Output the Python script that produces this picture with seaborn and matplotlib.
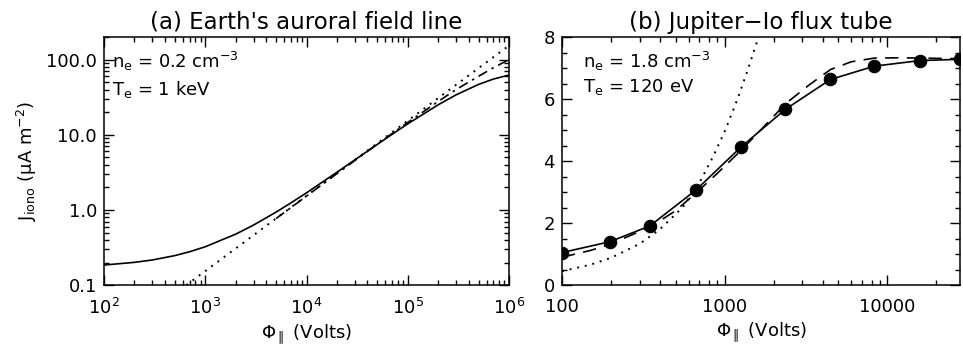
import numpy as np
import pandas as pd
import matplotlib
matplotlib.use("Agg")
import matplotlib.pyplot as plt
import seaborn as sns
from matplotlib.ticker import FixedLocator, LogLocator, MultipleLocator, NullFormatter, FixedFormatter

# ---------------- data ----------------
# (a) Earth's auroral field line
phi_a = [1e2, 2e2, 3e2, 5e2, 7e2, 1e3, 2e3, 3e3, 5e3, 7e3, 1e4, 2e4, 3e4, 5e4, 7e4,
         1e5, 2e5, 3e5, 5e5, 7e5, 1e6]
j_solid_a = [0.185, 0.201, 0.216, 0.247, 0.278, 0.324, 0.477, 0.630, 0.935, 1.24, 1.69,
             3.18, 4.64, 7.45, 10.15, 13.98, 25.1, 34.0, 46.8, 55.1, 62.4]
phi_dash_a = [5e3, 7e3, 1e4, 2e4, 3e4, 5e4, 7e4, 1e5, 2e5, 3e5, 5e5, 7e5, 1e6]
j_dash_a = [0.77, 1.07, 1.53, 3.05, 4.55, 7.5, 10.4, 14.6, 27.8, 40.0, 60.0, 78.0, 100.0]
phi_dot_a = [650, 1e3, 1e4, 1e5, 1e6]
j_dot_a = [0.1, 0.154, 1.54, 15.4, 154.0]

# (b) Jupiter-Io flux tube
phi_b = [100, 197, 347, 664, 1265, 2366, 4470, 8320, 15900, 28000]
j_b = [1.05, 1.40, 1.91, 3.06, 4.46, 5.67, 6.63, 7.06, 7.24, 7.28]
phi_dash_b = [100, 150, 200, 350, 500, 660, 900, 1265, 1700, 2370, 3300, 4470, 6000,
              8320, 12000, 15900, 28000]
j_dash_b = [0.90, 1.12, 1.33, 1.88, 2.40, 2.95, 3.60, 4.35, 5.05, 5.85, 6.45, 6.95, 7.20,
            7.32, 7.33, 7.32, 7.30]
phi_dot_b = [100, 150, 200, 300, 400, 550, 700, 850, 1000, 1200, 1400, 1640]
j_dot_b = [0.45, 0.66, 0.88, 1.33, 1.80, 2.50, 3.30, 4.15, 4.95, 6.00, 7.00, 8.10]

sns.set_style("ticks")
plt.rcParams["font.family"] = ["DejaVu Sans"]
plt.rcParams["mathtext.default"] = "regular"
plt.rcParams["axes.linewidth"] = 1.1
for key in ["text.color", "axes.labelcolor", "xtick.color", "ytick.color", "axes.edgecolor"]:
    plt.rcParams[key] = "black"

fig = plt.figure(figsize=(9.63, 3.49), dpi=100)
ax1 = fig.add_axes([0.108, 0.183, 0.4206, 0.711])
ax2 = fig.add_axes([0.5836, 0.183, 0.4133, 0.711])

lw = 1.2
dot = (0, (1, 3))
fs = 13

# ---------------- panel (a) ----------------
sns.lineplot(x=phi_a, y=j_solid_a, ax=ax1, color="black", lw=lw)
sns.lineplot(x=phi_dash_a, y=j_dash_a, ax=ax1, color="black", lw=lw, linestyle=(0, (6, 3, 1.5, 3)))
sns.lineplot(x=phi_dot_a, y=j_dot_a, ax=ax1, color="black", lw=lw + 0.2, linestyle=dot)
ax1.set_xscale("log")
ax1.set_yscale("log")
ax1.set_xlim(1e2, 1e6)
ax1.set_ylim(0.1, 200)
ax1.yaxis.set_major_locator(FixedLocator([0.1, 1, 10, 100]))
ax1.yaxis.set_major_formatter(FixedFormatter(["0.1", "1.0", "10.0", "100.0"]))
ax1.yaxis.set_minor_locator(LogLocator(base=10, subs=np.arange(2, 10)))
ax1.yaxis.set_minor_formatter(NullFormatter())
ax1.xaxis.set_major_locator(LogLocator(base=10, numticks=10))
ax1.xaxis.set_minor_locator(LogLocator(base=10, subs=np.arange(2, 10), numticks=20))
ax1.xaxis.set_minor_formatter(NullFormatter())
ax1.set_title("(a) Earth's auroral field line", fontsize=16.5, pad=6)
ax1.set_xlabel(r"$\Phi_{\parallel}$ (Volts)", fontsize=fs, labelpad=3)
ax1.set_ylabel(r"J$_{\rm iono}$ ($\mu$A m$^{-2}$)", fontsize=fs, labelpad=5)
ax1.text(0.02, 0.90, r"n$_{\rm e}$ = 0.2 cm$^{-3}$", transform=ax1.transAxes, fontsize=fs, va="center")
ax1.text(0.02, 0.79, r"T$_{\rm e}$ = 1 keV", transform=ax1.transAxes, fontsize=fs, va="center")

# ---------------- panel (b) ----------------
sns.lineplot(x=phi_b, y=j_b, ax=ax2, color="black", lw=lw, marker="o", markersize=9,
             markeredgecolor="black")
sns.lineplot(x=phi_dash_b, y=j_dash_b, ax=ax2, color="black", lw=lw, linestyle=(0, (8, 5)))
sns.lineplot(x=phi_dot_b, y=j_dot_b, ax=ax2, color="black", lw=lw + 0.2, linestyle=dot)
ax2.set_xscale("log")
ax2.set_xlim(100, 28000)
ax2.set_ylim(0, 8)
ax2.xaxis.set_major_locator(FixedLocator([100, 1000, 10000]))
ax2.xaxis.set_major_formatter(FixedFormatter(["100", "1000", "10000"]))
ax2.xaxis.set_minor_locator(LogLocator(base=10, subs=np.arange(2, 10), numticks=20))
ax2.xaxis.set_minor_formatter(NullFormatter())
ax2.yaxis.set_major_locator(MultipleLocator(2))
ax2.yaxis.set_minor_locator(MultipleLocator(0.5))
ax2.set_title("(b) Jupiter\u2212Io flux tube", fontsize=16.5, pad=6)
ax2.set_xlabel(r"$\Phi_{\parallel}$ (Volts)", fontsize=fs, labelpad=3)
ax2.set_ylabel("")
ax2.text(0.053, 0.90, r"n$_{\rm e}$ = 1.8 cm$^{-3}$", transform=ax2.transAxes, fontsize=fs, va="center")
ax2.text(0.053, 0.80, r"T$_{\rm e}$ = 120 eV", transform=ax2.transAxes, fontsize=fs, va="center")

for ax in (ax1, ax2):
    ax.tick_params(which="both", direction="in", top=True, right=True, width=1.0, labelsize=fs)
    ax.tick_params(which="major", length=7)
    ax.tick_params(which="minor", length=3.5)
    ax.tick_params(axis="x", which="major", pad=9)
    ax.tick_params(axis="y", which="major", pad=5)
    for s in ax.spines.values():
        s.set_visible(True)
        s.set_color("black")

fig.savefig("out.png", dpi=100)
